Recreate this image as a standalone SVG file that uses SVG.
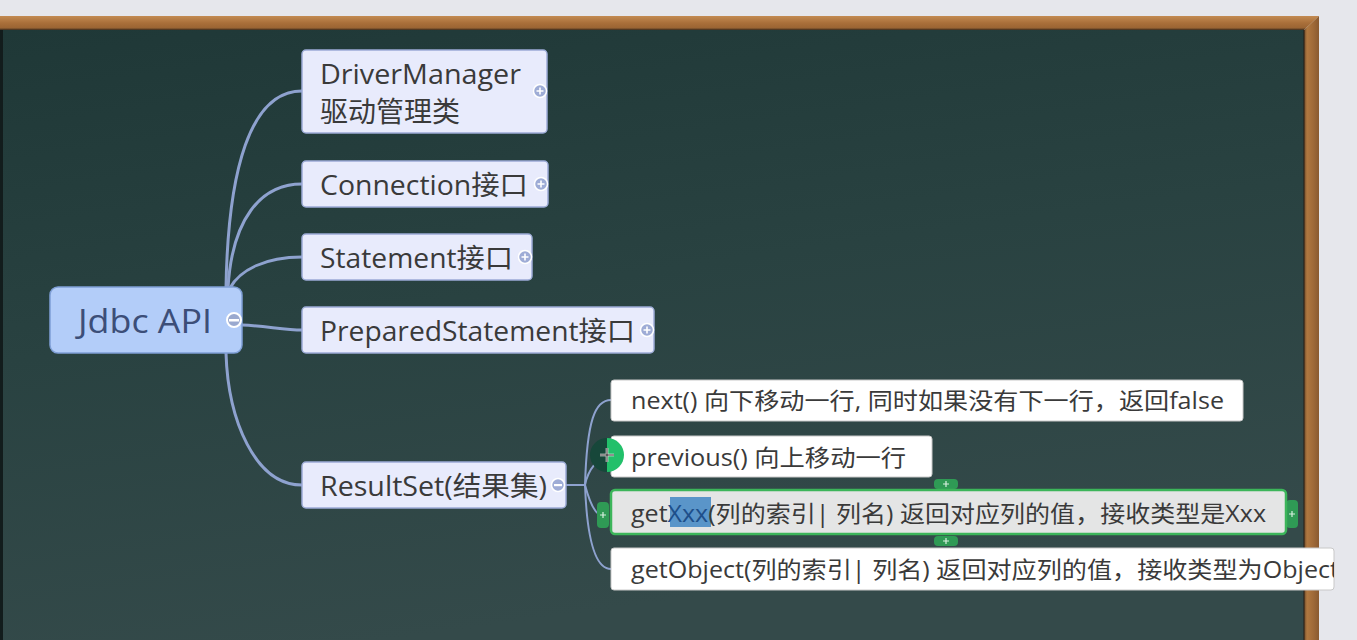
<svg xmlns="http://www.w3.org/2000/svg" width="1357" height="640" viewBox="0 0 1357 640">
<defs>
<linearGradient id="board" x1="0" y1="0" x2="0.3" y2="1">
<stop offset="0" stop-color="#1f3837"/>
<stop offset="0.5" stop-color="#294241"/>
<stop offset="1" stop-color="#344a4a"/>
</linearGradient>
<linearGradient id="woodH" x1="0" y1="0" x2="0" y2="1">
<stop offset="0" stop-color="#c38b52"/>
<stop offset="0.5" stop-color="#a96f3a"/>
<stop offset="0.85" stop-color="#9a6433"/>
<stop offset="1" stop-color="#3a2a1c"/>
</linearGradient>
<linearGradient id="woodV" x1="0" y1="0" x2="1" y2="0">
<stop offset="0" stop-color="#6b4a2a"/>
<stop offset="0.2" stop-color="#b07840"/>
<stop offset="0.6" stop-color="#a06a38"/>
<stop offset="1" stop-color="#8a5a30"/>
</linearGradient>
<clipPath id="objClip"><rect x="611" y="548" width="723" height="42"/></clipPath>
</defs>
<style>
.topic{fill:#e8ebfc;stroke:#9cabd6;stroke-width:1.5}
.sub{fill:#ffffff;stroke:#c8c8c8;stroke-width:1}
.t{font-family:"Open Sans","Noto Sans CJK SC",sans-serif;fill:#3a3a3a}
.conn{fill:none;stroke:#8ea2cf;stroke-width:3;stroke-linecap:round}
.conn2{fill:none;stroke:#8ea2cf;stroke-width:2}
.btn{fill:#9eacd6;stroke:#ffffff;stroke-width:1.5}
.gtab{fill:#2f9a55}
</style>
<rect x="0" y="0" width="1357" height="640" fill="#e6e7ec"/>
<rect x="0" y="30" width="1304" height="610" fill="url(#board)"/>
<rect x="0" y="30" width="3" height="610" fill="#121c1c"/>
<polygon points="0,16 1319,16 1304,30 0,30" fill="url(#woodH)"/>
<polygon points="1319,16 1319,640 1304,640 1304,30" fill="url(#woodV)"/>
<line x1="1304" y1="30" x2="1304" y2="640" stroke="#2a1d12" stroke-width="1"/>

<g id="connectors">
<path class="conn" d="M226,288 C228,170 250,91 302,91"/>
<path class="conn" d="M228,288 C232,220 260,184 302,184"/>
<path class="conn" d="M230,288 C240,270 265,257 302,257"/>
<path class="conn" d="M242,325 C265,326 285,330 302,330"/>
<path class="conn" d="M226,353 C228,420 255,485 302,485"/>
<path class="conn2" d="M566,485 L585,485"/>
<path class="conn2" d="M585,485 C587,420 595,400 611,400"/>
<path class="conn2" d="M585,485 C588,470 598,456 611,456"/>
<path class="conn2" d="M585,485 C589,500 595,515 602,515"/>
<path class="conn2" d="M585,485 C587,540 595,569 611,569"/>
</g>

<g id="root">
<rect x="50" y="287" width="192" height="66" rx="8" fill="#b3cdf9" stroke="#7f9fd6" stroke-width="1.5"/>
<text x="78" y="333" textLength="134" lengthAdjust="spacingAndGlyphs" font-family="Open Sans,Noto Sans CJK SC,sans-serif" font-size="32" fill="#3c4e78">Jdbc API</text>
<circle cx="234" cy="320" r="7" fill="#9aa9cf" stroke="#ffffff" stroke-width="2"/>
<rect x="229" y="319" width="10" height="2.5" fill="#ffffff"/>
</g>

<g id="driver">
<rect class="topic" x="302" y="50" width="245" height="83" rx="4"/>
<text class="t" x="320" y="84" font-size="27" textLength="201" lengthAdjust="spacingAndGlyphs">DriverManager</text>
<text class="t" x="320" y="122" font-size="28">驱动管理类</text>
<circle class="btn" cx="540" cy="91" r="6.5"/>
<path d="M536.5,91 h7 M540,87.5 v7" stroke="#fff" stroke-width="1.6"/>
</g>

<g id="connection">
<rect class="topic" x="302" y="161" width="246" height="46" rx="4"/>
<text class="t" x="320" y="195" font-size="27" textLength="208" lengthAdjust="spacingAndGlyphs">Connection接口</text>
<circle class="btn" cx="541" cy="184" r="6.5"/>
<path d="M537.5,184 h7 M541,180.5 v7" stroke="#fff" stroke-width="1.6"/>
</g>

<g id="statement">
<rect class="topic" x="302" y="234" width="230" height="46" rx="4"/>
<text class="t" x="320" y="268" font-size="27" textLength="193" lengthAdjust="spacingAndGlyphs">Statement接口</text>
<circle class="btn" cx="525" cy="257" r="6.5"/>
<path d="M521.5,257 h7 M525,253.5 v7" stroke="#fff" stroke-width="1.6"/>
</g>

<g id="prepared">
<rect class="topic" x="302" y="307" width="352" height="46" rx="4"/>
<text class="t" x="320" y="341" font-size="27" textLength="315" lengthAdjust="spacingAndGlyphs">PreparedStatement接口</text>
<circle class="btn" cx="647" cy="330" r="6.5"/>
<path d="M643.5,330 h7 M647,326.5 v7" stroke="#fff" stroke-width="1.6"/>
</g>

<g id="resultset">
<rect class="topic" x="302" y="462" width="264" height="46" rx="4"/>
<text class="t" x="320" y="496" font-size="27" textLength="227" lengthAdjust="spacingAndGlyphs">ResultSet(结果集)</text>
<circle class="btn" cx="558" cy="485" r="6.5"/>
<rect x="554" y="484" width="8" height="2.2" fill="#fff"/>
</g>

<g id="next">
<rect class="sub" x="611" y="380" width="632" height="41" rx="3"/>
<text class="t" x="631" y="409" font-size="23" textLength="593" lengthAdjust="spacingAndGlyphs">next() 向下移动一行, 同时如果没有下一行，返回false</text>
</g>

<g id="previous">
<rect class="sub" x="611" y="436" width="321" height="41" rx="3"/>
<text class="t" x="631" y="466" font-size="23" textLength="275" lengthAdjust="spacingAndGlyphs">previous() 向上移动一行</text>
<path d="M607,438 A17,17 0 0 1 607,472 Z" fill="#22c06a"/>
<path d="M607,438 A17,17 0 0 0 607,472 Z" fill="#17473a"/>
<path d="M600,455 h14 M607,448 v14" stroke="#ffffff" stroke-width="2.5"/>
<path d="M600,455 h14 M607,448 v14" stroke="#222" stroke-width="1"/>
</g>

<g id="getxxx">
<rect x="934" y="479" width="24" height="10" rx="4" class="gtab"/>
<rect x="934" y="536" width="24" height="10" rx="4" class="gtab"/>
<rect x="597" y="502" width="12" height="26" rx="4" class="gtab"/>
<rect x="1286" y="500" width="12" height="28" rx="4" class="gtab"/>
<path d="M943,484 h6 M946,481 v6 M943,541 h6 M946,538 v6 M600,515 h6 M603,512 v6 M1289,514 h6 M1292,511 v6" stroke="#d8efdf" stroke-width="1.2"/>
<rect x="611" y="490" width="675" height="44" rx="4" fill="#e4e5e5" stroke="#3cb55a" stroke-width="2.5"/>
<rect x="670" y="497" width="41" height="30" fill="#5a95c9"/>
<text class="t" x="631" y="522" font-size="23" textLength="635" lengthAdjust="spacingAndGlyphs">get<tspan fill="#1e4f8a">Xxx</tspan>(列的索引| 列名) 返回对应列的值，接收类型是Xxx</text>
</g>

<g id="getobject">
<rect class="sub" x="611" y="548" width="723" height="42" rx="3"/>
<g clip-path="url(#objClip)">
<text class="t" x="631" y="578" font-size="23" textLength="708" lengthAdjust="spacingAndGlyphs">getObject(列的索引| 列名) 返回对应列的值，接收类型为Object</text>
</g>
</g>
</svg>
